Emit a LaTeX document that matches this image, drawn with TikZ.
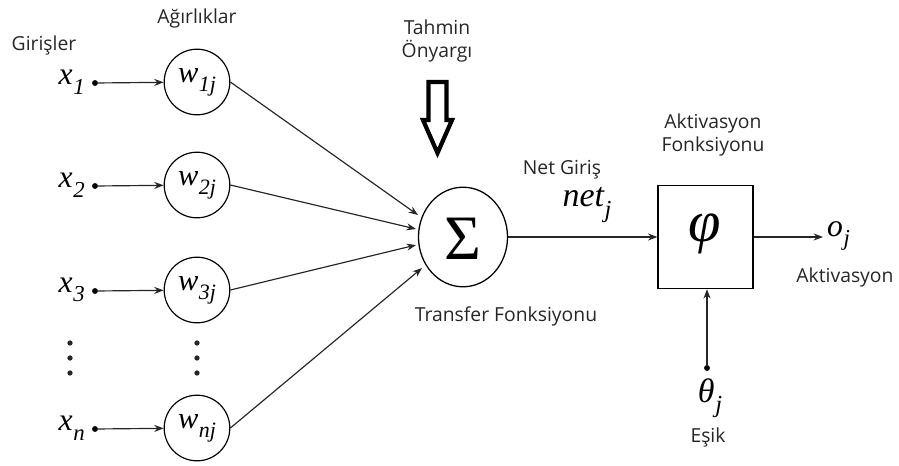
\documentclass[tikz,border=0pt]{standalone}
\usepackage{fontspec}
\setmainfont{Open Sans}
\newfontfamily\symser{Liberation Serif}
\usetikzlibrary{arrows.meta,shapes.geometric}

% italic serif symbol with a lowered subscript
\newcommand{\symvar}[3]{{\symser\itshape\fontsize{#3}{#3}\selectfont #1\kern0.02em\raisebox{-0.3em}{\fontsize{0.72\dimexpr#3pt\relax}{1}\selectfont #2}}}

\begin{document}
\begin{tikzpicture}[x=0.03cm,y=-0.03cm,
  lbl/.style={inner sep=0, font=\fontsize{16.5}{20}\selectfont, text=black!85},
  wnode/.style={draw, line width=1pt, circle, minimum size=56pt, inner sep=0},
  sumnode/.style={draw, line width=1.1pt, ellipse, minimum width=76pt, minimum height=85pt, inner sep=0},
  actbox/.style={draw, line width=1.1pt, minimum width=81pt, minimum height=88pt, inner sep=0},
  conn/.style={line width=1pt, black!85},
  tip/.style={-{Stealth[length=8pt,width=6pt]}},
  dotpt/.style={circle, fill=black, inner sep=0, minimum size=5pt},
  vdot/.style={circle, fill=black!85, inner sep=0, minimum size=4.5pt}
]
\useasboundingbox (0,0) rectangle (899,465);

% captions
\node[lbl] (girisler) at (44,45) {Girişler};
\node[lbl] (agirlik) at (197,18) {Ağırlıklar};
\node[lbl, align=center] (tahmin) at (437,41) {Tahmin\\Önyargı};
\node[lbl] (netgiris) at (562,170) {Net Giriş};
\node[lbl, align=center] (aktfonk) at (713,135) {Aktivasyon\\Fonksiyonu};
\node[lbl] (transfer) at (506,316) {Transfer Fonksiyonu};
\node[lbl] (aktiv) at (845,277) {Aktivasyon};
\node[lbl] (esik) at (708,437) {Eşik};

% inputs
\foreach \i/\sub/\y in {1/1/82, 2/2/185, 3/3/290, n/n/428} {
  \node[inner sep=0, anchor=east] (x\i) at (85,\y) {\symvar{x}{\sub}{27}};
  \node[dotpt] (d\i) at (95,\y+1) {};
  \node[wnode] (w\i) at (197,\y) {\symvar{w}{\sub j}{26}};
  \draw[conn, tip] (d\i) -- (w\i);
}

% vertical ellipsis dots
\foreach \xx/\nm in {70/a, 197/b} {
  \node[vdot] (\nm1) at (\xx,343) {};
  \node[vdot] (\nm2) at (\xx,358) {};
  \node[vdot] (\nm3) at (\xx,373) {};
}

% summation and activation
\node[sumnode] (sum) at (463,237) {};
\node[inner sep=0] (sigma) at (463,239) {{\symser\fontsize{54}{54}\selectfont Σ}};
\node[actbox] (act) at (705.5,237) {};
\node[inner sep=0] (phi) at (705,234) {{\symser\itshape\fontsize{50}{50}\selectfont φ}};

\coordinate (e1) at (418,215);
\coordinate (e2) at (416,229);
\coordinate (e3) at (416,245);
\coordinate (en) at (422,268);
\draw[conn, tip] (w1.east) -- (e1);
\draw[conn, tip] (w2.east) -- (e2);
\draw[conn, tip] (w3.east) -- (e3);
\draw[conn, tip] (wn.east) -- (en);

\draw[conn, tip] (sum.east) -- (act.west);
\node[inner sep=0] (net) at (587,205) {\symvar{net}{j}{29}};

% output
\coordinate (oend) at (823,237);
\draw[conn, tip] (act.east) -- (oend);
\node[inner sep=0, anchor=west] (oj) at (827,236) {\symvar{o}{j}{27}};

% threshold
\node[dotpt] (thdot) at (707,368) {};
\draw[conn, tip] (thdot) -- (act.south -| thdot);
\node[inner sep=0] (theta) at (710,398) {\symvar{θ}{j}{29}};

% hollow bias arrow
\draw[line width=3.6pt, line join=miter]
  (428.5,82) -- (446.5,82) -- (446.5,120) -- (452,120) -- (437.5,153)
  -- (423,120) -- (428.5,120) -- cycle;
\end{tikzpicture}
\end{document}
